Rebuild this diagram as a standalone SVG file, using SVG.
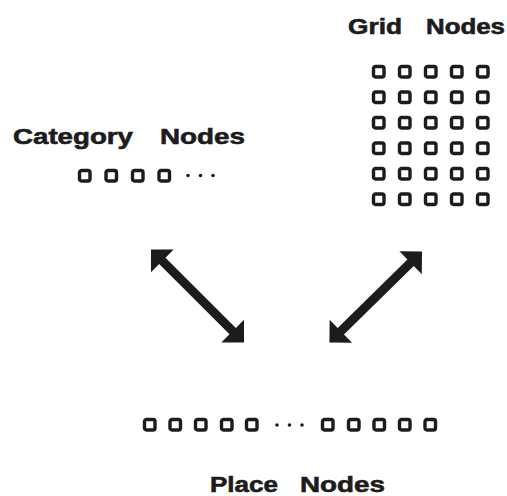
<svg xmlns="http://www.w3.org/2000/svg" width="507" height="496" viewBox="0 0 507 496">
<style>
.lbl{font-family:"Liberation Sans",Arial,sans-serif;font-weight:bold;font-size:22px;fill:#1c1c1c;stroke:#1c1c1c;stroke-width:0.6}
.sq{fill:none;stroke:#1c1c1c;stroke-width:3.4}
.dot{fill:#1c1c1c}
.arr{fill:#1c1c1c}
</style>
<defs>
<rect id="s" class="sq" x="1.5" y="1.5" width="10.5" height="10.5" rx="2"/>
</defs>
<rect width="507" height="496" fill="#fff"/>
<g id="grid-nodes">
<text class="lbl" x="348" y="34" textLength="54" lengthAdjust="spacingAndGlyphs">Grid</text>
<text class="lbl" x="426" y="34" textLength="79" lengthAdjust="spacingAndGlyphs">Nodes</text>
<g>
<use href="#s" x="372" y="65"/><use href="#s" x="398" y="65"/><use href="#s" x="424" y="65"/><use href="#s" x="450" y="65"/><use href="#s" x="476" y="65"/>
<use href="#s" x="372" y="90.5"/><use href="#s" x="398" y="90.5"/><use href="#s" x="424" y="90.5"/><use href="#s" x="450" y="90.5"/><use href="#s" x="476" y="90.5"/>
<use href="#s" x="372" y="116"/><use href="#s" x="398" y="116"/><use href="#s" x="424" y="116"/><use href="#s" x="450" y="116"/><use href="#s" x="476" y="116"/>
<use href="#s" x="372" y="141.5"/><use href="#s" x="398" y="141.5"/><use href="#s" x="424" y="141.5"/><use href="#s" x="450" y="141.5"/><use href="#s" x="476" y="141.5"/>
<use href="#s" x="372" y="167"/><use href="#s" x="398" y="167"/><use href="#s" x="424" y="167"/><use href="#s" x="450" y="167"/><use href="#s" x="476" y="167"/>
<use href="#s" x="372" y="192.5"/><use href="#s" x="398" y="192.5"/><use href="#s" x="424" y="192.5"/><use href="#s" x="450" y="192.5"/><use href="#s" x="476" y="192.5"/>
</g>
</g>
<g id="category-nodes">
<text class="lbl" x="13" y="143.5" textLength="120" lengthAdjust="spacingAndGlyphs">Category</text>
<text class="lbl" x="160" y="143.5" textLength="85" lengthAdjust="spacingAndGlyphs">Nodes</text>
<use href="#s" x="78" y="169"/><use href="#s" x="104.5" y="169"/><use href="#s" x="131" y="169"/><use href="#s" x="157.5" y="169"/>
<circle class="dot" cx="188" cy="175.5" r="1.8"/><circle class="dot" cx="200.5" cy="175.5" r="1.8"/><circle class="dot" cx="213" cy="175.5" r="1.8"/>
</g>
<g id="place-nodes">
<use href="#s" x="143" y="418"/><use href="#s" x="168.5" y="418"/><use href="#s" x="194" y="418"/><use href="#s" x="220" y="418"/><use href="#s" x="245" y="418"/>
<circle class="dot" cx="277" cy="425" r="1.8"/><circle class="dot" cx="289.5" cy="425" r="1.8"/><circle class="dot" cx="302" cy="425" r="1.8"/>
<use href="#s" x="321" y="418"/><use href="#s" x="347" y="418"/><use href="#s" x="372.5" y="418"/><use href="#s" x="398" y="418"/><use href="#s" x="423.5" y="418"/>
<text class="lbl" x="210" y="491.5" textLength="68" lengthAdjust="spacingAndGlyphs">Place</text>
<text class="lbl" x="300" y="491.5" textLength="85" lengthAdjust="spacingAndGlyphs">Nodes</text>
</g>
<g id="connectors">
<polygon class="arr" transform="translate(151,249.5) rotate(45)" points="0,0 16,-16 16,-4.5 115.5,-4.5 115.5,-16 131.5,0 115.5,16 115.5,4.5 16,4.5 16,16"/>
<polygon class="arr" transform="translate(422,251.5) rotate(135.5)" points="0,0 16,-16 16,-4.5 113.8,-4.5 113.8,-16 129.8,0 113.8,16 113.8,4.5 16,4.5 16,16"/>
</g>
</svg>
